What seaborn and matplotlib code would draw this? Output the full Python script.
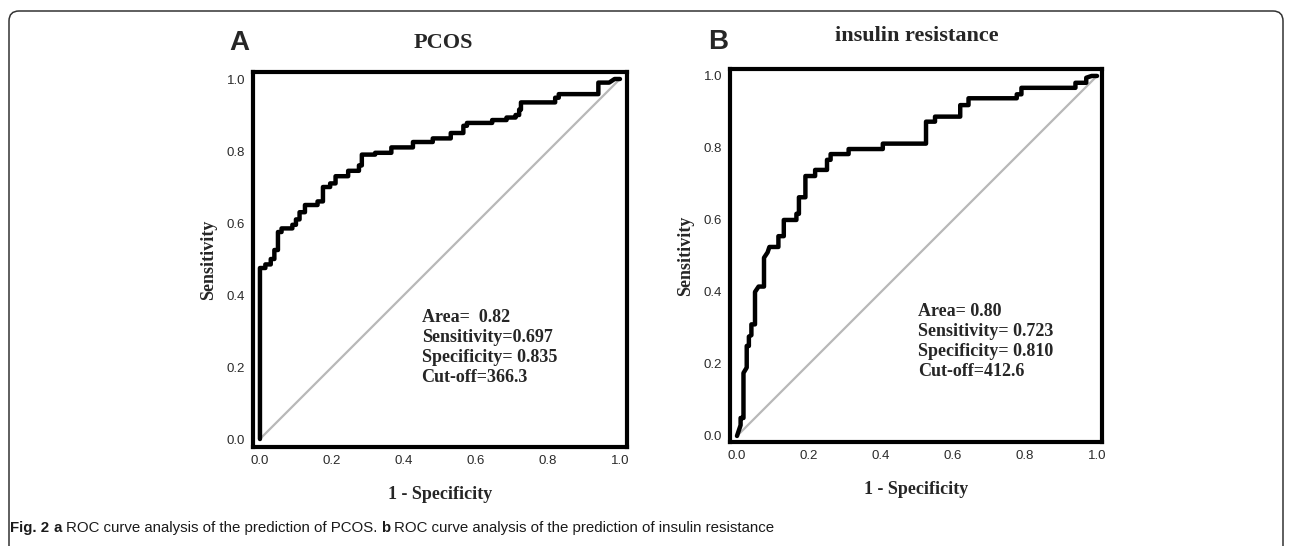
import matplotlib
matplotlib.use("Agg")
import matplotlib.pyplot as plt
from matplotlib.patches import FancyBboxPatch
from matplotlib.transforms import IdentityTransform
import seaborn as sns

sns.set_style("white")
plt.rcParams["font.family"] = ["Liberation Sans", "DejaVu Sans"]

### ROC step curves
pcos_fpr = [0, 0, 0.015, 0.015, 0.03, 0.03, 0.04, 0.04, 0.05, 0.05, 0.06, 0.06, 0.09, 0.09,
            0.10, 0.10, 0.11, 0.11, 0.125, 0.125, 0.16, 0.16, 0.175, 0.175, 0.195, 0.195,
            0.21, 0.21, 0.245, 0.245, 0.275, 0.275, 0.283, 0.283, 0.32, 0.32, 0.365, 0.365,
            0.425, 0.425, 0.48, 0.48, 0.53, 0.53, 0.565, 0.565, 0.575, 0.575, 0.645, 0.645,
            0.685, 0.685, 0.71, 0.71, 0.72, 0.72, 0.725, 0.725, 0.82, 0.82, 0.83, 0.83,
            0.94, 0.94, 0.97, 0.985, 1.0]
pcos_tpr = [0, 0.475, 0.475, 0.485, 0.485, 0.50, 0.50, 0.525, 0.525, 0.575, 0.575, 0.585,
            0.585, 0.595, 0.595, 0.61, 0.61, 0.63, 0.63, 0.65, 0.65, 0.66, 0.66, 0.70, 0.70,
            0.71, 0.71, 0.73, 0.73, 0.745, 0.745, 0.76, 0.76, 0.79, 0.79, 0.795, 0.795, 0.81,
            0.81, 0.825, 0.825, 0.835, 0.835, 0.85, 0.85, 0.87, 0.87, 0.878, 0.878, 0.886,
            0.886, 0.893, 0.893, 0.90, 0.90, 0.915, 0.915, 0.935, 0.935, 0.948, 0.948, 0.958,
            0.958, 0.99, 0.99, 1.0, 1.0]

ir_fpr = [0, 0.01, 0.01, 0.018, 0.018, 0.027, 0.027, 0.033, 0.033, 0.04, 0.04, 0.05, 0.05,
          0.06, 0.075, 0.075, 0.085, 0.09, 0.115, 0.115, 0.13, 0.13, 0.165, 0.165, 0.172,
          0.172, 0.19, 0.19, 0.217, 0.217, 0.25, 0.25, 0.26, 0.26, 0.31, 0.31, 0.405, 0.405,
          0.525, 0.525, 0.55, 0.55, 0.62, 0.62, 0.643, 0.643, 0.777, 0.777, 0.79, 0.79, 0.94,
          0.94, 0.97, 0.97, 0.985, 1.0]
ir_tpr = [0, 0.03, 0.05, 0.05, 0.175, 0.19, 0.25, 0.25, 0.276, 0.28, 0.31, 0.31, 0.40, 0.415,
          0.415, 0.495, 0.51, 0.525, 0.525, 0.555, 0.555, 0.60, 0.60, 0.617, 0.617, 0.663,
          0.663, 0.722, 0.722, 0.739, 0.739, 0.767, 0.767, 0.783, 0.783, 0.797, 0.797, 0.812,
          0.812, 0.873, 0.873, 0.887, 0.887, 0.919, 0.919, 0.938, 0.938, 0.949, 0.949, 0.967,
          0.967, 0.981, 0.981, 0.995, 1.0, 1.0]

diag = [0, 1]
ticks = [0.0, 0.2, 0.4, 0.6, 0.8, 1.0]

pcos_stats = ["Area=  0.82", "Sensitivity=0.697", "Specificity= 0.835", "Cut-off=366.3"]
ir_stats = ["Area= 0.80", "Sensitivity= 0.723", "Specificity= 0.810", "Cut-off=412.6"]

W, H = 1290, 546
fig = plt.figure(figsize=(W / 100, H / 100), dpi=100)
ax_a = fig.add_axes([0.1961, 0.1813, 0.2899, 0.6868])
ax_b = fig.add_axes([0.5659, 0.1905, 0.2884, 0.6832])

serif = ["Liberation Serif", "DejaVu Serif"]


def roc_panel(ax, fpr, tpr, stats, xlim, ylim, stat_x, stat_y):
    sns.lineplot(x=diag, y=diag, ax=ax, color="#b8b8b8", lw=1.6, sort=False, estimator=None)
    sns.lineplot(x=fpr, y=tpr, ax=ax, color="black", lw=3.2, sort=False, estimator=None)
    ax.set_xlim(*xlim)
    ax.set_ylim(*ylim)
    ax.set_xticks(ticks)
    ax.set_yticks(ticks)
    ax.set_xticklabels([f"{t:.1f}" for t in ticks])
    ax.set_yticklabels([f"{t:.1f}" for t in ticks])
    ax.tick_params(axis="both", direction="out", length=3, width=1, color="#333333",
                   labelsize=9.5, labelcolor="#2a2a2a", pad=2.5)
    for s in ax.spines.values():
        s.set_linewidth(3.0)
        s.set_color("black")
    ax.set_xlabel("1 - Specificity", family=serif, weight="bold", fontsize=13, labelpad=14)
    ax.set_ylabel("Sensitivity", family=serif, weight="bold", fontsize=13, labelpad=7)
    for i, line in enumerate(stats):
        ax.text(stat_x, stat_y - i * 0.056, line, family=serif, weight="bold", fontsize=13,
                va="center", ha="left")


roc_panel(ax_a, pcos_fpr, pcos_tpr, pcos_stats,
          (-0.0194, 1.0194), (-0.0222, 1.0194), 0.449, 0.338)
roc_panel(ax_b, ir_fpr, ir_tpr, ir_stats,
          (-0.0194, 1.0139), (-0.0167, 1.0194), 0.504, 0.347)

# panel titles and letters
fig.text(443 / W, 1 - 43 / H, "PCOS", family=serif, weight="bold", fontsize=16,
         ha="center", va="center")
fig.text(917 / W, 1 - 36 / H, "insulin resistance", family=serif, weight="bold", fontsize=16,
         ha="center", va="center")
fig.text(239 / W, 1 - 43 / H, "A", weight="bold", fontsize=20, ha="center", va="center")
fig.text(718 / W, 1 - 42 / H, "B", weight="bold", fontsize=20, ha="center", va="center")

# caption
cap_y = 1 - 528 / H
cap_size = 10.8
r = fig.canvas.get_renderer()


def put(x_px, txt, bold):
    t = fig.text(x_px / W, cap_y, txt, weight="bold" if bold else "normal",
                 fontsize=cap_size, va="center", color="#1a1a1a")
    return t.get_window_extent(renderer=r).x1


x = put(10, "Fig. 2", True) + 4
x = put(x, "a", True) + 4
x = put(x, "ROC curve analysis of the prediction of PCOS.", False) + 4
x = put(x, "b", True) + 4
put(x, "ROC curve analysis of the prediction of insulin resistance", False)

# figure frame
fig.patches.append(FancyBboxPatch((9, -20), 1274, 555, boxstyle="round,pad=0,rounding_size=10",
                                  transform=IdentityTransform(), fill=False, lw=1.1,
                                  ec="#333333", figure=fig))

fig.savefig("out.png", dpi=100)
